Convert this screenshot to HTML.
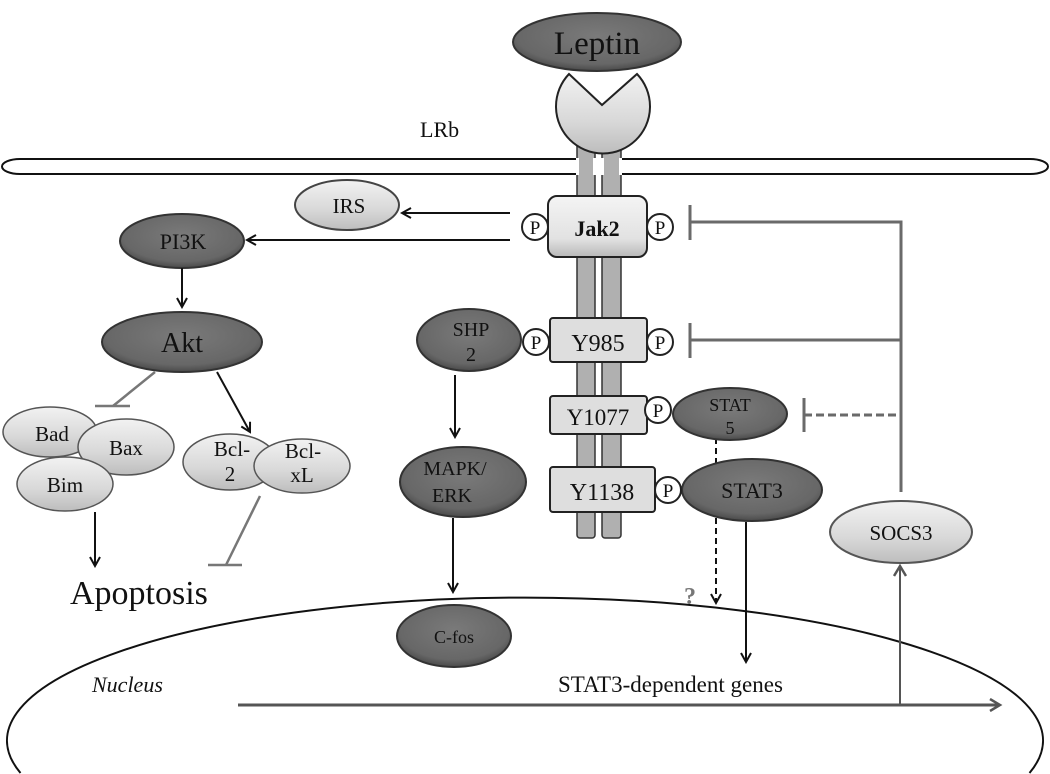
<!DOCTYPE html>
<html><head><meta charset="utf-8"><style>
html,body{margin:0;padding:0;background:#fff;width:1050px;height:774px;overflow:hidden;}
svg{display:block;font-family:"Liberation Serif",serif;overflow:hidden;}
</style></head><body>
<svg width="1050" height="774" viewBox="0 0 1050 774" xmlns="http://www.w3.org/2000/svg">
<defs>
<radialGradient id="dk" cx="50%" cy="40%" r="60%"><stop offset="0" stop-color="#7a7a7a"/><stop offset="0.8" stop-color="#676767"/><stop offset="1" stop-color="#4a4a4a"/></radialGradient>
<linearGradient id="lt" x1="0" y1="0" x2="0" y2="1"><stop offset="0" stop-color="#f2f2f2"/><stop offset="0.6" stop-color="#d8d8d8"/><stop offset="1" stop-color="#bdbdbd"/></linearGradient>
<linearGradient id="bx" x1="0" y1="0" x2="0" y2="1"><stop offset="0" stop-color="#f4f4f4"/><stop offset="0.7" stop-color="#e2e2e2"/><stop offset="1" stop-color="#b8b8b8"/></linearGradient>
<marker id="ah" markerWidth="12" markerHeight="12" refX="10" refY="6" orient="auto" markerUnits="userSpaceOnUse"><path d="M1,1 L10,6 L1,11" fill="none" stroke="#111" stroke-width="2"/></marker>
<marker id="ahg" markerWidth="14" markerHeight="14" refX="11" refY="7" orient="auto" markerUnits="userSpaceOnUse"><path d="M1,1 L11,7 L1,13" fill="none" stroke="#555" stroke-width="2.5"/></marker>
</defs>

<path d="M20,159 L1030,159 A18,7.5 0 0 1 1030,174 L20,174 A18,7.5 0 0 1 20,159 Z" fill="none" stroke="#111" stroke-width="2"/>

<path d="M20.5,773 A518,143 0 1 1 1029.5,773" fill="none" stroke="#111" stroke-width="2"/>

<rect x="577" y="140" width="18" height="398" rx="3" fill="#b0b0b0" stroke="#333" stroke-width="1.5"/>
<rect x="602" y="140" width="19" height="398" rx="3" fill="#b0b0b0" stroke="#333" stroke-width="1.5"/>
<rect x="576" y="158" width="46" height="17" fill="#fff"/>
<rect x="579" y="158" width="14" height="17" fill="#b0b0b0"/>
<rect x="604" y="158" width="15" height="17" fill="#b0b0b0"/>

<path d="M569,74 L602,105 L637,74 A47,47 0 1 1 569,74 Z" fill="url(#lt)" stroke="#222" stroke-width="2"/>
<ellipse cx="597" cy="42" rx="84" ry="29" fill="url(#dk)" stroke="#333" stroke-width="2"/>
<text x="597" y="54" font-size="33" text-anchor="middle" fill="#111">Leptin</text>

<text x="420" y="137" font-size="22" fill="#111">LRb</text>

<rect x="548" y="196" width="99" height="61" rx="9" fill="url(#bx)" stroke="#222" stroke-width="2"/>
<text x="597" y="236" font-size="22" font-weight="bold" text-anchor="middle" fill="#111">Jak2</text>
<g font-size="19" text-anchor="middle" fill="#111">
<circle cx="535" cy="227" r="13" fill="#fff" stroke="#222" stroke-width="2"/><text x="535" y="234">P</text>
<circle cx="660" cy="227" r="13" fill="#fff" stroke="#222" stroke-width="2"/><text x="660" y="234">P</text>
</g>

<rect x="550" y="318" width="97" height="44" rx="3" fill="#dedede" stroke="#222" stroke-width="2"/>
<text x="598" y="351" font-size="24" text-anchor="middle" fill="#111">Y985</text>
<g font-size="19" text-anchor="middle" fill="#111">
<circle cx="536" cy="342" r="13" fill="#fff" stroke="#222" stroke-width="2"/><text x="536" y="349">P</text>
<circle cx="660" cy="342" r="13" fill="#fff" stroke="#222" stroke-width="2"/><text x="660" y="349">P</text>
</g>
<rect x="550" y="396" width="97" height="38" rx="3" fill="#dedede" stroke="#222" stroke-width="2"/>
<text x="598" y="425" font-size="23" text-anchor="middle" fill="#111">Y1077</text>
<rect x="550" y="467" width="105" height="45" rx="3" fill="#dedede" stroke="#222" stroke-width="2"/>
<text x="602" y="500" font-size="24" text-anchor="middle" fill="#111">Y1138</text>

<line x1="716" y1="438" x2="716" y2="603" stroke="#111" stroke-width="2" stroke-dasharray="6,4" marker-end="url(#ah)"/>
<line x1="746" y1="522" x2="746" y2="662" stroke="#111" stroke-width="2" marker-end="url(#ah)"/>

<ellipse cx="730" cy="414" rx="57" ry="26" fill="url(#dk)" stroke="#333" stroke-width="2"/>
<text x="730" y="411" font-size="18" text-anchor="middle" fill="#111">STAT</text>
<text x="730" y="434" font-size="18" text-anchor="middle" fill="#111">5</text>
<circle cx="658" cy="410" r="13" fill="#fff" stroke="#222" stroke-width="2"/><text x="658" y="417" font-size="19" text-anchor="middle" fill="#111">P</text>
<ellipse cx="752" cy="490" rx="70" ry="31" fill="url(#dk)" stroke="#333" stroke-width="2"/>
<text x="752" y="498" font-size="22" text-anchor="middle" fill="#111">STAT3</text>
<circle cx="668" cy="490" r="13" fill="#fff" stroke="#222" stroke-width="2"/><text x="668" y="497" font-size="19" text-anchor="middle" fill="#111">P</text>
<text x="690" y="604" font-size="24" font-weight="bold" fill="#777" text-anchor="middle">?</text>

<ellipse cx="469" cy="340" rx="52" ry="31" fill="url(#dk)" stroke="#333" stroke-width="2"/>
<text x="471" y="336" font-size="20" text-anchor="middle" fill="#111">SHP</text>
<text x="471" y="361" font-size="20" text-anchor="middle" fill="#111">2</text>
<line x1="455" y1="375" x2="455" y2="437" stroke="#111" stroke-width="2" marker-end="url(#ah)"/>
<ellipse cx="463" cy="482" rx="63" ry="35" fill="url(#dk)" stroke="#333" stroke-width="2"/>
<text x="455" y="475" font-size="20" text-anchor="middle" fill="#111">MAPK/</text>
<text x="452" y="502" font-size="20" text-anchor="middle" fill="#111">ERK</text>
<line x1="453" y1="518" x2="453" y2="592" stroke="#111" stroke-width="2" marker-end="url(#ah)"/>
<ellipse cx="454" cy="636" rx="57" ry="31" fill="url(#dk)" stroke="#333" stroke-width="2"/>
<text x="454" y="643" font-size="18" text-anchor="middle" fill="#111">C-fos</text>

<g stroke="#6a6a6a" stroke-width="3" fill="none">
<polyline points="690,222 901,222 901,492"/>
<line x1="690" y1="205" x2="690" y2="240"/>
<line x1="690" y1="340" x2="901" y2="340"/>
<line x1="690" y1="323" x2="690" y2="358"/>
<line x1="804" y1="415" x2="901" y2="415" stroke-dasharray="8,4"/>
<line x1="804" y1="398" x2="804" y2="432"/>
</g>

<ellipse cx="901" cy="532" rx="71" ry="31" fill="url(#lt)" stroke="#555" stroke-width="2"/>
<text x="901" y="540" font-size="21" text-anchor="middle" fill="#111">SOCS3</text>

<line x1="238" y1="705" x2="1000" y2="705" stroke="#555" stroke-width="3" marker-end="url(#ahg)"/>
<line x1="900" y1="705" x2="900" y2="566" stroke="#555" stroke-width="2" marker-end="url(#ahg)"/>
<text x="558" y="692" font-size="23" fill="#111">STAT3-dependent genes</text>
<text x="92" y="692" font-size="22" font-style="italic" fill="#111">Nucleus</text>

<ellipse cx="347" cy="205" rx="52" ry="25" fill="url(#lt)" stroke="#444" stroke-width="2"/>
<text x="349" y="213" font-size="21" text-anchor="middle" fill="#111">IRS</text>
<line x1="510" y1="213" x2="402" y2="213" stroke="#111" stroke-width="2" marker-end="url(#ah)"/>
<line x1="510" y1="240" x2="247" y2="240" stroke="#111" stroke-width="2" marker-end="url(#ah)"/>
<ellipse cx="182" cy="241" rx="62" ry="27" fill="url(#dk)" stroke="#333" stroke-width="2"/>
<text x="183" y="249" font-size="22" text-anchor="middle" fill="#111">PI3K</text>
<line x1="182" y1="268" x2="182" y2="307" stroke="#111" stroke-width="2" marker-end="url(#ah)"/>
<ellipse cx="182" cy="342" rx="80" ry="30" fill="url(#dk)" stroke="#333" stroke-width="2"/>
<text x="182" y="352" font-size="28" text-anchor="middle" fill="#111">Akt</text>
<g stroke="#777" stroke-width="2.5">
<line x1="155" y1="372" x2="113" y2="406"/>
<line x1="95" y1="406" x2="130" y2="406"/>
<line x1="260" y1="496" x2="226" y2="565"/>
<line x1="208" y1="565" x2="242" y2="565"/>
</g>
<line x1="217" y1="372" x2="250" y2="432" stroke="#111" stroke-width="2" marker-end="url(#ah)"/>

<ellipse cx="50" cy="432" rx="47" ry="25" fill="url(#lt)" stroke="#555" stroke-width="1.5"/>
<text x="52" y="441" font-size="21" text-anchor="middle" fill="#111">Bad</text>
<ellipse cx="126" cy="447" rx="48" ry="28" fill="url(#lt)" stroke="#555" stroke-width="1.5"/>
<text x="126" y="455" font-size="21" text-anchor="middle" fill="#111">Bax</text>
<ellipse cx="65" cy="484" rx="48" ry="27" fill="url(#lt)" stroke="#555" stroke-width="1.5"/>
<text x="65" y="492" font-size="21" text-anchor="middle" fill="#111">Bim</text>

<ellipse cx="230" cy="462" rx="47" ry="28" fill="url(#lt)" stroke="#555" stroke-width="1.5"/>
<text x="232" y="456" font-size="21" text-anchor="middle" fill="#111">Bcl-</text>
<text x="230" y="481" font-size="21" text-anchor="middle" fill="#111">2</text>
<ellipse cx="302" cy="466" rx="48" ry="27" fill="url(#lt)" stroke="#555" stroke-width="1.5"/>
<text x="303" y="458" font-size="21" text-anchor="middle" fill="#111">Bcl-</text>
<text x="302" y="482" font-size="21" text-anchor="middle" fill="#111">xL</text>

<line x1="95" y1="512" x2="95" y2="566" stroke="#111" stroke-width="2" marker-end="url(#ah)"/>
<text x="70" y="604" font-size="34" fill="#111">Apoptosis</text>
</svg>
</body></html>
